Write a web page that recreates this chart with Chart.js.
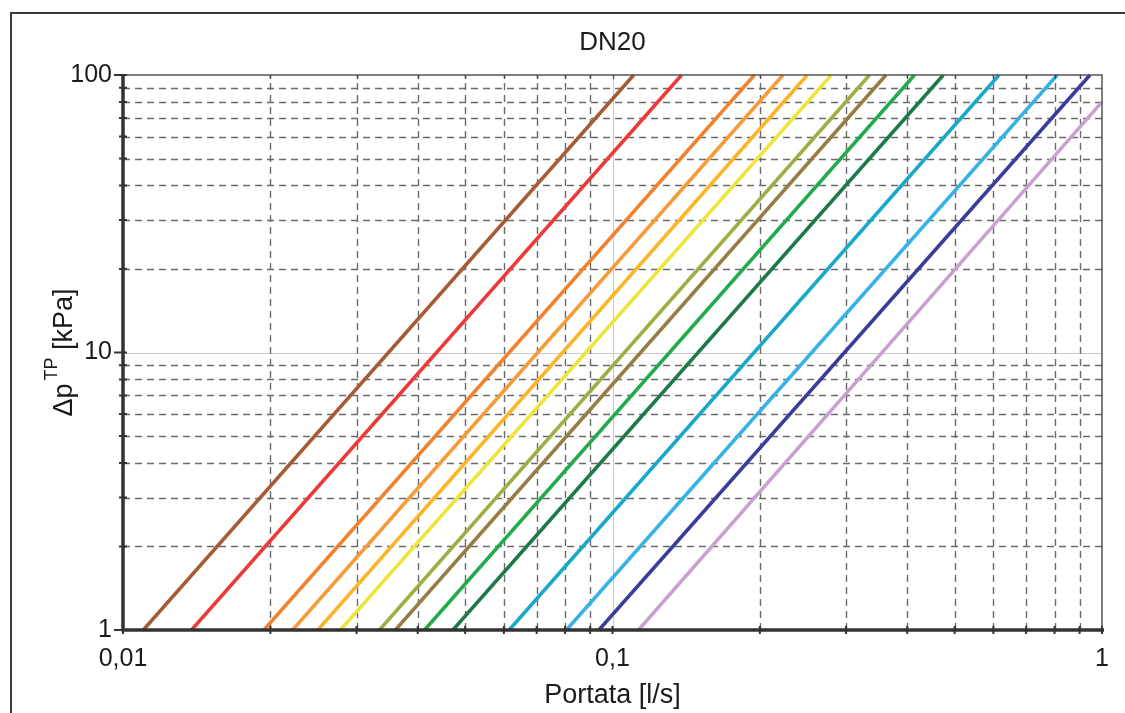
<!DOCTYPE html>
<html>
<head>
<meta charset="utf-8">
<script src="https://cdn.jsdelivr.net/npm/chart.js@4"></script>
<style>
  html, body { margin:0; padding:0; background:#fff; }
  #wrap { position:relative; width:1125px; height:713px; overflow:hidden; }
  #frame { position:absolute; left:10px; top:12px; width:1140px; height:740px; border:2px solid #3a3a3a; box-sizing:border-box; }
  canvas { position:absolute; left:0; top:0; }
</style>
</head>
<body>
<div id="wrap">
  <div id="frame"></div>
  <canvas id="c" width="1125" height="713"></canvas>
</div>
<script>
// Flow rate [l/s] read at Δp = 1 kPa and at the upper end of each curve
const seriesNames = ["1","2","3","4","5","6","7","8","9","10","11","12","13","14"];
const qLow  = [0.0110, 0.0138, 0.0194, 0.0222, 0.0250, 0.0278, 0.0334, 0.0360, 0.0413, 0.0472, 0.0615, 0.0805, 0.0938, 0.1130];
const qHigh = [0.1105, 0.1384, 0.1950, 0.2230, 0.2500, 0.2800, 0.3350, 0.3620, 0.4140, 0.4740, 0.6160, 0.8100, 0.9450, 1.0000];
const pLow  = [1,1,1,1,1,1,1,1,1,1,1,1,1,1];
const pHigh = [100,100,100,100,100,100,100,100,100,100,100,100,100,80];
const colors = ["#a85a35","#ec3a3a","#f0822e","#f59b38","#fbb526","#efe33e","#9fae43","#977d42","#22aa4c","#1b7a47","#18a8cc","#37b2e6","#393c9a","#c9a1d0"];
const xTickLabels = {0.01:"0,01", 0.1:"0,1", 1:"1"};
const yTickLabels = {1:"1", 10:"10", 100:"100"};

const datasets = seriesNames.map((n,i)=>({
  label: n,
  data: [{x:qLow[i], y:pLow[i]}, {x:qHigh[i], y:pHigh[i]}],
  borderColor: colors[i],
  backgroundColor: colors[i],
  borderWidth: 3.5,
  showLine: true,
  pointRadius: 0,
  clip: false
}));

const FONT = "Liberation Sans, Arial, sans-serif";

const decor = {
  id:'decor',
  beforeDatasetsDraw(chart){
    const ctx = chart.ctx, ca = chart.chartArea, xs = chart.scales.x, ys = chart.scales.y;
    ctx.save();
    const minorX=[], minorY=[];
    for (const d of [0.01,0.1]) for (let k=2;k<=9;k++) minorX.push(d*k);
    for (const d of [1,10]) for (let k=2;k<=9;k++) minorY.push(d*k);
    ctx.lineWidth = 1;
    ctx.strokeStyle = '#c8c8c8';
    ctx.setLineDash([]);
    ctx.beginPath();
    let px = Math.round(xs.getPixelForValue(0.1))+0.5;
    ctx.moveTo(px, ca.top); ctx.lineTo(px, ca.bottom);
    let py = Math.round(ys.getPixelForValue(10))+0.5;
    ctx.moveTo(ca.left, py); ctx.lineTo(ca.right, py);
    ctx.stroke();
    ctx.strokeStyle = '#6a6a6a';
    ctx.lineWidth = 1.4;
    ctx.setLineDash([7,5]);
    ctx.beginPath();
    for (const v of minorX){ const p=Math.round(xs.getPixelForValue(v))+0.5; ctx.moveTo(p, ca.bottom); ctx.lineTo(p, ca.top); }
    ctx.stroke();
    ctx.beginPath();
    for (const v of minorY){ const p=Math.round(ys.getPixelForValue(v))+0.5; ctx.moveTo(ca.left, p); ctx.lineTo(ca.right, p); }
    ctx.stroke();
    ctx.setLineDash([]);
    ctx.restore();
  },
  afterDatasetsDraw(chart){
    const ctx = chart.ctx, ca = chart.chartArea, xs = chart.scales.x, ys = chart.scales.y;
    ctx.save();
    ctx.strokeStyle = '#555'; ctx.lineWidth = 1.5;
    ctx.beginPath();
    ctx.moveTo(ca.left, ca.top); ctx.lineTo(ca.right, ca.top); ctx.lineTo(ca.right, ca.bottom);
    ctx.stroke();
    ctx.lineWidth = 1.3; ctx.strokeStyle='#444';
    ctx.beginPath();
    for (const d of [0.01,0.1]) for (let k=1;k<=9;k++){ const p=Math.round(xs.getPixelForValue(d*k))+0.5; ctx.moveTo(p, ca.top); ctx.lineTo(p, ca.top+4); }
    ctx.stroke();
    ctx.strokeStyle = '#333'; ctx.lineWidth = 3.5;
    ctx.beginPath();
    ctx.moveTo(ca.left, ca.top); ctx.lineTo(ca.left, ca.bottom); ctx.lineTo(ca.right+2, ca.bottom);
    ctx.stroke();
    ctx.lineWidth = 2;
    ctx.beginPath();
    for (const d of [1,10]) for (let k=1;k<=10;k++){ const p=ys.getPixelForValue(d*k); ctx.moveTo(ca.left-4, p); ctx.lineTo(ca.left+4, p); }
    for (const d of [0.01,0.1]) for (let k=1;k<=10;k++){ const p=xs.getPixelForValue(d*k); ctx.moveTo(p, ca.bottom+4); ctx.lineTo(p, ca.bottom-4); }
    for (const v of [1,10,100]) { const p=ys.getPixelForValue(v); ctx.moveTo(ca.left-9, p); ctx.lineTo(ca.left, p); }
    ctx.stroke();
    ctx.fillStyle = '#1a1a1a';
    ctx.font = '26px ' + FONT;
    ctx.textAlign = 'center'; ctx.textBaseline = 'middle';
    ctx.fillText('DN20', (ca.left+ca.right)/2, 43);
    ctx.font = '27px ' + FONT;
    ctx.fillText('Portata [l/s]', (ca.left+ca.right)/2, 696);
    ctx.translate(72, (ca.top+ca.bottom)/2);
    ctx.rotate(-Math.PI/2);
    ctx.textBaseline = 'alphabetic'; ctx.textAlign = 'left';
    const f1 = '27px ' + FONT, f2 = '18px ' + FONT;
    ctx.font = f1; const w1 = ctx.measureText('Δp').width;
    ctx.font = f2; const w2 = ctx.measureText('TP').width;
    ctx.font = f1; const w3 = ctx.measureText(' [kPa]').width;
    let sx = -(w1+w2+w3+3)/2;
    ctx.font = f1; ctx.fillText('Δp', sx, 0); sx += w1 + 3;
    ctx.font = f2; ctx.fillText('TP', sx, -15); sx += w2;
    ctx.font = f1; ctx.fillText(' [kPa]', sx, 0);
    ctx.restore();
  }
};

new Chart(document.getElementById('c'), {
  type: 'scatter',
  data: { datasets },
  options: {
    responsive: false,
    animation: false,
    events: [],
    layout: { padding: { top: 75, right: 23, bottom: 0, left: 0 } },
    plugins: { legend: { display:false }, tooltip: { enabled:false }, title: { display:false } },
    scales: {
      x: {
        type: 'logarithmic', min: 0.01, max: 1,
        grid: { display:false }, border: { display:false },
        afterFit: s => { s.height = 83; },
        afterBuildTicks: s => { s.ticks = [0.01, 0.1, 1].map(v=>({value:v})); },
        ticks: { autoSkip:false, maxRotation:0, padding: 6, color:'#1a1a1a', font:{ family: FONT, size: 25 },
          callback: v => xTickLabels[v] !== undefined ? xTickLabels[v] : '' }
      },
      y: {
        type: 'logarithmic', min: 1, max: 100,
        grid: { display:false }, border: { display:false },
        afterFit: s => { s.width = 123; },
        afterBuildTicks: s => { s.ticks = [1, 10, 100].map(v=>({value:v})); },
        ticks: { autoSkip:false, padding: 3, color:'#1a1a1a', font:{ family: FONT, size: 25 },
          callback: v => yTickLabels[v] !== undefined ? yTickLabels[v] : '' }
      }
    }
  },
  plugins: [decor]
});
</script>
</body>
</html>
